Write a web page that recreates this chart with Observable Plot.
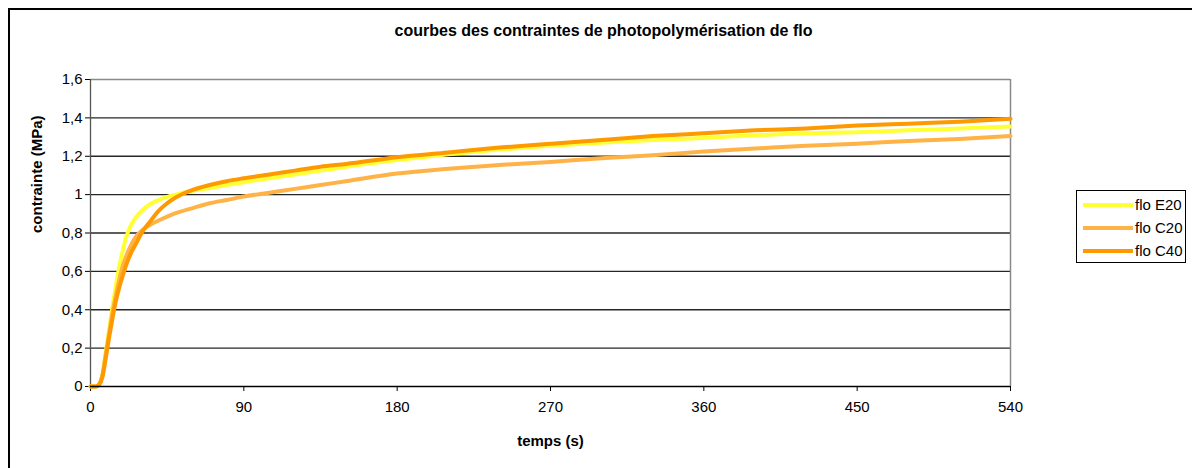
<!DOCTYPE html>
<html>
<head>
<meta charset="utf-8">
<script src="https://cdn.jsdelivr.net/npm/d3@7"></script>
<script src="https://cdn.jsdelivr.net/npm/@observablehq/plot@0.6"></script>
<style>
  html, body { margin: 0; padding: 0; background: #fff; }
  body { width: 1192px; height: 468px; position: relative; overflow: hidden; font-family: "Liberation Sans", Arial, sans-serif; }
  #frame { position: absolute; left: 8px; top: 8px; width: 1200px; height: 480px; border-left: 2px solid #000; border-top: 2px solid #000; pointer-events: none; }
  #chart { position: absolute; left: 0; top: 0; }
  #legend { position: absolute; left: 1076px; top: 190px; width: 110px; height: 73px; border: 1px solid #000; background: #fff; box-sizing: border-box; }
  .item { position: absolute; left: 6px; height: 20px; font-size: 15px; line-height: 20px; color: #000; white-space: nowrap; }
  .sw { display: inline-block; width: 50px; height: 4px; vertical-align: middle; margin-right: 2px; position: relative; top: -1px; }
</style>
</head>
<body>
<div id="chart"></div>
<div id="frame"></div>
<div id="legend"></div>
<script>
// ---- data ----
const seriesNames = ["flo E20", "flo C20", "flo C40"];
const seriesColors = ["#FFFF33", "#FFB347", "#FF9900"];
const time = [0, 3, 5, 7, 9, 11, 13, 15, 17, 19, 21, 24, 27, 30, 35, 40, 45, 50, 60, 70, 80, 90, 105, 120, 135, 150, 180, 210, 240, 270, 300, 330, 360, 390, 420, 450, 480, 510, 540];
const floE20 = [0, 0, 0.01, 0.06, 0.18, 0.30, 0.42, 0.53, 0.63, 0.71, 0.78, 0.845, 0.885, 0.915, 0.95, 0.972, 0.988, 1.0, 1.02, 1.035, 1.05, 1.065, 1.085, 1.105, 1.125, 1.145, 1.18, 1.21, 1.235, 1.255, 1.27, 1.285, 1.295, 1.31, 1.32, 1.325, 1.335, 1.345, 1.355];
const floC20 = [0, 0, 0.01, 0.06, 0.17, 0.28, 0.39, 0.48, 0.56, 0.63, 0.68, 0.74, 0.785, 0.812, 0.843, 0.865, 0.885, 0.903, 0.93, 0.955, 0.972, 0.99, 1.01, 1.03, 1.05, 1.07, 1.11, 1.135, 1.155, 1.17, 1.19, 1.205, 1.225, 1.24, 1.255, 1.265, 1.28, 1.29, 1.305];
const floC40 = [0, 0, 0.01, 0.05, 0.15, 0.26, 0.36, 0.45, 0.52, 0.58, 0.635, 0.70, 0.75, 0.80, 0.86, 0.915, 0.955, 0.985, 1.025, 1.05, 1.07, 1.085, 1.105, 1.125, 1.145, 1.16, 1.195, 1.22, 1.245, 1.265, 1.285, 1.305, 1.32, 1.335, 1.345, 1.36, 1.37, 1.38, 1.395];
const xTicks = [0, 90, 180, 270, 360, 450, 540];
const yTicks = [0, 0.2, 0.4, 0.6, 0.8, 1.0, 1.2, 1.4, 1.6];
const titleText = "courbes des contraintes de photopolymérisation de flo";
const xLabel = "temps (s)";
const yLabel = "contrainte (MPa)";

// ---- build table ----
const allSeries = [floE20, floC20, floC40];
const rows = [];
allSeries.forEach((vals, i) => vals.forEach((v, j) => rows.push({serie: seriesNames[i], t: time[j], v})));

const fmt = d => (Math.round(d * 10) / 10).toString().replace(".", ",");
const font = '"Liberation Sans", Arial, sans-serif';

const chart = Plot.plot({
  width: 1192,
  height: 468,
  marginLeft: 90,
  marginRight: 182,
  marginTop: 79,
  marginBottom: 82,
  style: {fontFamily: font, fontSize: "15px", color: "#000", background: "transparent"},
  x: {domain: [0, 540], ticks: xTicks},
  y: {domain: [0, 1.6], ticks: yTicks},
  color: {domain: seriesNames, range: seriesColors},
  marks: [
    Plot.gridY(yTicks.filter(d => d > 0 && d < 1.6), {stroke: "#000", strokeOpacity: 0.85, strokeWidth: 1.3}),
    Plot.ruleY([1.6], {stroke: "#8a8a8a", strokeWidth: 1.5}),
    Plot.ruleX([540], {stroke: "#8a8a8a", strokeWidth: 1.5}),
    Plot.axisX({ticks: xTicks, tickSize: 5, tickPadding: 10, label: null, fontSize: 15}),
    Plot.axisY({ticks: yTicks, tickSize: 5, tickPadding: 3, tickFormat: fmt, label: null, fontSize: 15}),
    Plot.ruleX([0], {stroke: "#555", strokeWidth: 1.3}),
    Plot.line(rows, {x: "t", y: "v", z: "serie", stroke: "serie", strokeWidth: 4, curve: "monotone-x"}),
    Plot.ruleY([0], {stroke: "#000", strokeWidth: 1.3}),
    Plot.text([titleText], {frameAnchor: "top", dx: 53, dy: -49, lineAnchor: "middle", fontWeight: "bold", fontSize: 16}),
    Plot.text([xLabel], {frameAnchor: "bottom", dy: 55, lineAnchor: "middle", fontWeight: "bold", fontSize: 15}),
    Plot.text([yLabel], {frameAnchor: "left", dx: -53, rotate: -90, fontWeight: "bold", fontSize: 15})
  ]
});
document.getElementById("chart").appendChild(chart);

// ---- legend ----
const legend = document.getElementById("legend");
seriesNames.forEach((name, i) => {
  const it = document.createElement("div");
  it.className = "item";
  it.style.top = (4 + i * 23) + "px";
  const sw = document.createElement("span");
  sw.className = "sw";
  sw.style.background = seriesColors[i];
  it.appendChild(sw);
  it.appendChild(document.createTextNode(name));
  legend.appendChild(it);
});
</script>
</body>
</html>
